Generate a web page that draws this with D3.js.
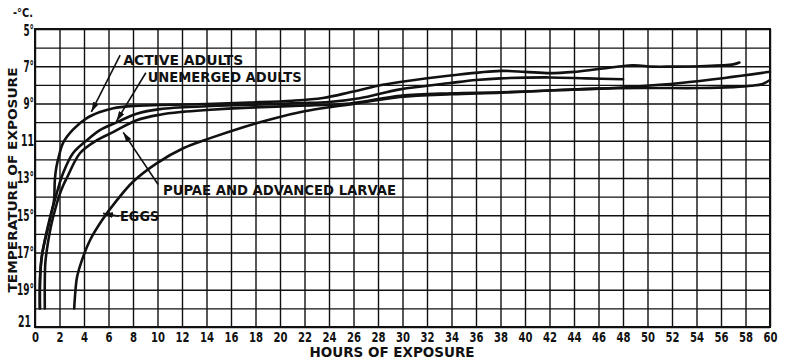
<!DOCTYPE html>
<html>
<head>
<meta charset="utf-8">
<script src="https://cdn.jsdelivr.net/npm/d3@7"></script>
<style>
  html, body { margin: 0; padding: 0; background: #fff; }
  svg { display: block; }
  .lbl { font-family: "DejaVu Sans Condensed", "DejaVu Sans", sans-serif; font-stretch: condensed; font-weight: bold; fill: #111; }
</style>
</head>
<body>
<svg id="chart" width="788" height="361"></svg>
<script>
// Hours of exposure ticks (every 2 h) and temperature ticks (-°C)
const hourTicks = d3.range(0, 61, 2);
const tempGrid = d3.range(5, 22, 1);
const tempTicks = [5, 7, 9, 11, 13, 15, 17, 19, 21];
const tempLabels = ["5°", "7°", "9°", "11", "13°", "15°", "17°", "19°", "21"];

// Each series: [hours, temperature (-°C)]
const activeAdults = [
  [0.4, 20], [0.4, 19], [0.45, 18], [0.6, 17], [0.95, 16], [1.3, 15], [1.55, 14.2],
  [1.62, 13.1], [1.75, 12.4], [2.0, 11.7], [2.3, 11.1], [3.1, 10.4], [4.2, 9.8],
  [5.3, 9.46], [6.4, 9.25], [7.8, 9.14], [10.2, 9.08], [14, 9.03], [17.5, 8.95],
  [21, 8.85], [23.5, 8.7], [25.7, 8.4], [28, 8.05], [29.8, 7.85], [33.9, 7.5],
  [38, 7.25], [40, 7.3], [42, 7.37], [44, 7.3], [46, 7.15], [48.8, 6.95],
  [50.4, 7.02], [52, 7.02], [54.3, 7.0], [57, 6.9], [57.5, 6.8]
];
const unemergedAdults = [
  [0.4, 20], [0.4, 18.5], [0.5, 17.5], [0.75, 16.5], [1.05, 15.6], [1.35, 14.8],
  [1.7, 14.0], [2.0, 13.3], [2.29, 12.74], [3.1, 11.67], [4.24, 10.97], [5.3, 10.43],
  [6.7, 10.0], [8.3, 9.55], [10.2, 9.3], [14, 9.15], [17.5, 9.07], [21.6, 8.98],
  [24, 8.92], [26.5, 8.72], [29.8, 8.24], [33.9, 7.9], [36, 7.74], [38, 7.65],
  [42, 7.6], [45, 7.65], [48, 7.7]
];
const pupaeLarvae = [
  [0.8, 20], [0.8, 18.5], [0.85, 17.5], [1.05, 16.5], [1.3, 15.6], [1.6, 14.8],
  [1.95, 14.0], [2.3, 13.4], [2.6, 13.0], [3.67, 11.67], [5.06, 10.97], [6.37, 10.54],
  [8.3, 9.9], [10.2, 9.6], [12, 9.45], [14, 9.35], [17.5, 9.22], [21.6, 9.12],
  [25.7, 9.0], [29.8, 8.58], [34, 8.45], [38, 8.4], [42, 8.3], [46, 8.2],
  [48.8, 8.1], [52.7, 7.9], [56.3, 7.63], [60, 7.3]
];
const eggs = [
  [3.2, 20], [3.27, 19.3], [3.43, 18.33], [3.84, 17.4], [4.49, 16.34], [5.47, 15.27],
  [6.69, 14.19], [8.0, 13.2], [9.96, 12.2], [12.1, 11.4], [14.3, 10.86], [17.0, 10.27],
  [19.5, 9.8], [22, 9.42], [24, 9.2], [26, 9.02], [29.8, 8.65], [34, 8.5],
  [38, 8.42], [42, 8.3], [46, 8.2], [50, 8.17], [54.3, 8.17], [57, 8.12],
  [58.5, 8.05], [59.4, 7.95], [60, 7.74]
];

const svg = d3.select("#chart");
const x = d3.scaleLinear().domain([0, 60]).range([35, 770]);
const y = d3.scaleLinear().domain([5, 21]).range([29, 327]);
const plotW = x(60) - x(0), plotH = y(21) - y(5);

// squeeze a text element to a width derived from its characters
function narrow(sel, digitW, degW) {
  sel.each(function () {
    const t = this.textContent;
    if (!t) return;
    const w = t.replace("°", "").length * digitW + (t.includes("°") ? degW : 0);
    d3.select(this).attr("textLength", w).attr("lengthAdjust", "spacingAndGlyphs");
  });
}

// arrowhead marker for the leader lines
svg.append("defs").append("marker")
  .attr("id", "arrow").attr("viewBox", "0 0 10 6")
  .attr("refX", 10).attr("refY", 3)
  .attr("markerWidth", 10).attr("markerHeight", 6)
  .attr("markerUnits", "userSpaceOnUse")
  .attr("orient", "auto")
  .append("path").attr("d", "M0,0 L10,3 L0,6 Z").attr("fill", "#111");

// vertical grid + hour labels
const xAxis = svg.append("g")
  .attr("transform", `translate(0,${y(21)})`)
  .call(d3.axisBottom(x).tickValues(hourTicks).tickSize(-plotH).tickPadding(5).tickFormat(d3.format("d")));
xAxis.select(".domain").remove();
xAxis.selectAll(".tick line").attr("stroke", "#111").attr("stroke-width", 1.4);
xAxis.selectAll(".tick text").attr("class", "lbl").attr("font-size", 14).attr("fill", "#111")
  .call(narrow, 7, 0);

// horizontal grid + temperature labels
const yAxis = svg.append("g")
  .attr("transform", `translate(${x(0)},0)`)
  .call(d3.axisLeft(y).tickValues(tempGrid).tickSize(-plotW).tickPadding(1)
    .tickFormat(d => { const i = tempTicks.indexOf(d); return i >= 0 ? tempLabels[i] : ""; }));
yAxis.select(".domain").remove();
yAxis.selectAll(".tick line").attr("stroke", "#111").attr("stroke-width", 1.4);
yAxis.selectAll(".tick text").attr("class", "lbl").attr("font-size", 15).attr("fill", "#111")
  .attr("dy", d => d === 21 ? "-0.05em" : d === 5 ? "0.4em" : "0.32em")
  .attr("dx", d => d === 21 ? -3 : 0)
  .call(narrow, 6.5, 4);

// frame
svg.append("rect")
  .attr("x", x(0)).attr("y", y(5)).attr("width", plotW).attr("height", plotH)
  .attr("fill", "none").attr("stroke", "#111").attr("stroke-width", 2);

// curves
const line = d3.line().x(d => x(d[0])).y(d => y(d[1])).curve(d3.curveCatmullRom.alpha(0.5));
[activeAdults, unemergedAdults, pupaeLarvae, eggs].forEach(s => {
  svg.append("path").datum(s).attr("d", line)
    .attr("fill", "none").attr("stroke", "#111")
    .attr("stroke-width", 2.6).attr("stroke-linecap", "round").attr("stroke-linejoin", "round");
});

// series labels with leader arrows: [text, text x (h), baseline (°), width px, leader from (h,°), to (h,°)]
const notes = [
  ["ACTIVE ADULTS", 7.2, 6.95, 120, [6.95, 6.4], [4.6, 9.45]],
  ["UNEMERGED ADULTS", 9.2, 7.85, 154, [9.05, 7.35], [6.65, 9.95]],
  ["PUPAE AND ADVANCED LARVAE", 10.45, 13.9, 233, [10.05, 13.35], [7.2, 10.55]],
  ["EGGS", 6.95, 15.3, 39, [6.85, 15.05], [5.55, 14.9]]
];
notes.forEach(([t, tx, ty, w, from, to]) => {
  svg.append("line")
    .attr("x1", x(from[0])).attr("y1", y(from[1]))
    .attr("x2", x(to[0])).attr("y2", y(to[1]))
    .attr("stroke", "#111").attr("stroke-width", 1.6)
    .attr("marker-end", "url(#arrow)");
  svg.append("text").attr("class", "lbl")
    .attr("x", x(tx)).attr("y", y(ty))
    .attr("font-size", 14)
    .attr("textLength", w).attr("lengthAdjust", "spacingAndGlyphs")
    .text(t);
});

// axis titles and unit
svg.append("text").attr("class", "lbl")
  .attr("x", 392).attr("y", 357).attr("text-anchor", "middle")
  .attr("font-size", 14).attr("textLength", 165).attr("lengthAdjust", "spacingAndGlyphs")
  .text("HOURS OF EXPOSURE");
svg.append("text").attr("class", "lbl")
  .attr("transform", "translate(17,180) rotate(-90)")
  .attr("text-anchor", "middle")
  .attr("font-size", 13).attr("textLength", 225).attr("lengthAdjust", "spacingAndGlyphs")
  .text("TEMPERATURE OF EXPOSURE");
svg.append("text").attr("class", "lbl")
  .attr("x", 33).attr("y", 17).attr("text-anchor", "end")
  .attr("font-size", 13).attr("textLength", 20).attr("lengthAdjust", "spacingAndGlyphs")
  .text("-°C.");
</script>
</body>
</html>
